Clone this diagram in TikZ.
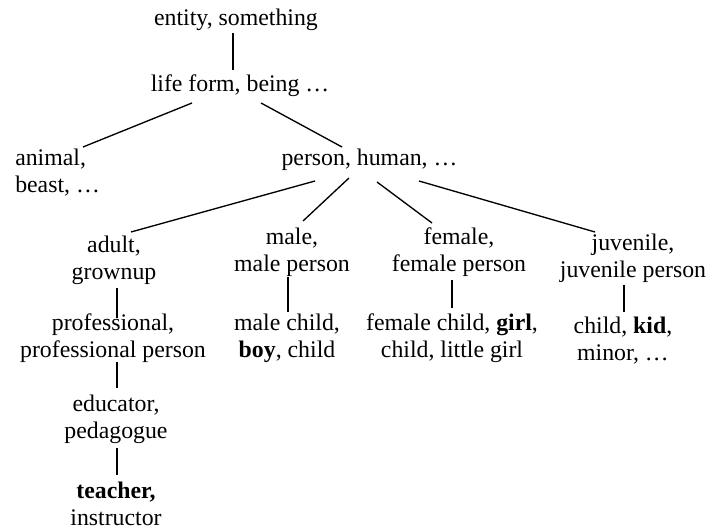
\documentclass[tikz,border=0pt]{standalone}
\usepackage{fontspec}
\setmainfont{Liberation Serif}
\usetikzlibrary{calc}
\begin{document}
\begin{tikzpicture}[x=0.75pt,y=-0.75pt,
  lbl/.style={inner sep=0pt,align=center,anchor=base,font=\fontsize{17.85}{20.25}\selectfont},
  edge/.style={line width=1pt}]
\useasboundingbox (0,0) rectangle (709,530);
\node[lbl] (entity) at (236,26) {entity, something};
\node[lbl] (life) at (240,92) {life form, being …};
\node[lbl,align=left,anchor=base west] (animal) at (15,193) {animal,\\beast, …};
\node[lbl] (person) at (369.5,166) {person, human, …};
\node[lbl] (adult) at (114,280) {adult,\\grownup};
\node[lbl] (prof) at (113,357) {professional,\\professional person};
\node[lbl] (educ) at (116,438) {educator,\\pedagogue};
\node[lbl] (teacher) at (116,525) {\textbf{teacher,}\\instructor};
\node[lbl] (male) at (292,272) {male,\\male person};
\node[lbl] (malechild) at (287,357) {male child,\\\textbf{boy}, child};
\node[lbl] (female) at (459,272) {female,\\female person};
\node[lbl] (femchild) at (452,357) {female child, \textbf{girl},\\child, little girl};
\node[lbl] (juvenile) at (633,278) {juvenile,\\juvenile person};
\node[lbl] (kid) at (623,360) {child, \textbf{kid},\\minor, …};
\draw[edge] ($(entity.base)+(-3,7)$) -- ($(life.base)+(-7,-22)$);
\draw[edge] ($(life.base)+(-48,11)$) -- ($(animal.base west)+(68,-46)$);
\draw[edge] ($(life.base)+(21,11)$) -- ($(person.base)+(-27.5,-19)$);
\draw[edge] ($(person.base)+(-54.5,15)$) -- ($(adult.base)+(17,-48)$);
\draw[edge] ($(person.base)+(-20.5,12)$) -- ($(male.base)+(11,-51)$);
\draw[edge] ($(person.base)+(7.5,16)$) -- ($(female.base)+(-27,-49)$);
\draw[edge] ($(person.base)+(49.5,15)$) -- ($(juvenile.base)+(-38,-46)$);
\draw[edge] ($(adult.base)+(3,8)$) -- ($(prof.base)+(4,-39)$);
\draw[edge] ($(prof.base)+(4,5)$) -- ($(educ.base)+(1,-50)$);
\draw[edge] ($(educ.base)+(1,10)$) -- ($(teacher.base)+(1,-50)$);
\draw[edge] ($(male.base)+(-4,5)$) -- ($(malechild.base)+(1,-45)$);
\draw[edge] ($(female.base)+(-7,8)$) -- ($(femchild.base)+(0,-49)$);
\draw[edge] ($(juvenile.base)+(-9,7)$) -- ($(kid.base)+(1,-48)$);
\end{tikzpicture}
\end{document}
